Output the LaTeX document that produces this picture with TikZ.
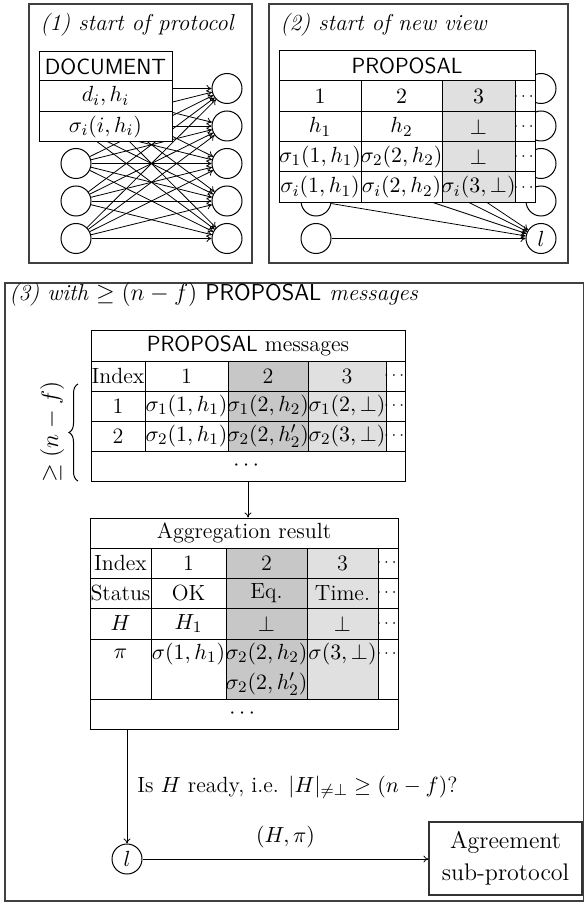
\documentclass[tikz,border=0pt]{standalone}
\usepackage{amsmath,amssymb}
\usetikzlibrary{arrows.meta,decorations.pathreplacing}
\definecolor{dgray}{gray}{0.78}
\definecolor{lgray}{gray}{0.88}
\newcommand\dts{{\fontsize{8}{9}\selectfont$\cdots$}}
\newcommand\tbox[5]{\path[draw=black,line width=0.5pt,fill=#5] (#1,#2) rectangle (#3,#4);}
\newcommand\tcell[7]{\tbox{#2}{#3}{#4}{#5}{#6}\node[txt] (#1) at ({(#2+#4)/2},{(#3+#5)/2}) {#7};}
\newcommand\bcell[7]{\node[draw=black,line width=0.5pt,fill=#6,inner sep=0pt,minimum width={(#4-#2)*0.5pt},minimum height={(#5-#3)*0.5pt}] (#1) at ({(#2+#4)/2},{(#3+#5)/2}) {#7};}
\begin{document}
\begin{tikzpicture}[x=0.5pt,y=-0.5pt,
  font=\fontsize{11}{13}\selectfont,
  frame/.style={draw=black!75,line width=0.6pt},
  nd/.style={circle,draw,line width=0.5pt,minimum size=15pt,inner sep=0pt,fill=white},
  arr/.style={-{To[length=2.5pt,width=3.5pt]},line width=0.4pt},
  txt/.style={inner sep=0pt},
  ttl/.style={anchor=base west,inner sep=0pt,font=\fontsize{11.5}{14}\selectfont}]
\useasboundingbox (0,0) rectangle (584,903);

% ---------- panel 1 ----------
\draw[frame] (29,4) rectangle (252,263);
\node[ttl] (ttl1) at (40,31) {\itshape (1) start of protocol};
\foreach \k/\y in {1/88.5,2/126,3/163.5,4/201,5/238.5}
  \node[nd] (R1\k) at (227,\y) {};
\coordinate (L11) at (76,88.5);
\coordinate (L12) at (76,126);
\node[nd] (L13) at (76,163.5) {};
\node[nd] (L14) at (76,201) {};
\node[nd] (L15) at (76,238.5) {};
\foreach \i in {1,...,5}
  \foreach \j in {1,...,5}
    \draw[arr] (L1\i) -- (R1\j);
\tcell{doc}{39}{52}{172}{81}{white}{\textsf{DOCUMENT}}
\tcell{docA}{39}{81}{172}{112}{white}{$d_i, h_i$}
\tcell{docB}{39}{112}{172}{142}{white}{$\sigma_i(i, h_i)$}

% ---------- panel 2 ----------
\draw[frame] (269,4) rectangle (568,263);
\node[ttl] (ttl2) at (280,31) {\itshape (2) start of new view};
\foreach \k/\y in {1/88.5,2/126,3/163.5,4/201}
  \node[nd] (R2\k) at (541,\y) {};
\node[nd] (lead) at (541,238.5) {$l$};
\coordinate (L21) at (316,88.5);
\coordinate (L22) at (316,126);
\coordinate (L23) at (316,163.5);
\node[nd] (L24) at (316,201) {};
\node[nd] (L25) at (316,238.5) {};
\foreach \i in {1,...,5}
  \draw[arr] (L2\i) -- (lead);
\tcell{prop}{279}{51}{535}{81}{white}{\textsf{PROPOSAL}}
\tcell{pa1}{279}{81}{361}{112}{white}{$1$}
\tcell{pa2}{361}{81}{442}{112}{white}{$2$}
\tcell{pa3}{442}{81}{515}{112}{lgray}{$3$}
\tcell{pa4}{515}{81}{535}{112}{white}{\dts}
\tcell{pb1}{279}{112}{361}{142}{white}{$h_1$}
\tcell{pb2}{361}{112}{442}{142}{white}{$h_2$}
\tcell{pb3}{442}{112}{515}{142}{lgray}{$\perp$}
\tcell{pb4}{515}{112}{535}{142}{white}{\dts}
\tcell{pc1}{279}{142}{361}{172}{white}{$\sigma_1(1, h_1)$}
\tcell{pc2}{361}{142}{442}{172}{white}{$\sigma_2(2, h_2)$}
\tcell{pc3}{442}{142}{515}{172}{lgray}{$\perp$}
\tcell{pc4}{515}{142}{535}{172}{white}{\dts}
\tcell{pd1}{279}{172}{361}{203}{white}{$\sigma_i(1, h_1)$}
\tcell{pd2}{361}{172}{442}{203}{white}{$\sigma_i(2, h_2)$}
\tcell{pd3}{442}{172}{515}{203}{lgray}{$\sigma_i(3, \perp)$}
\tcell{pd4}{515}{172}{535}{203}{white}{\dts}

% ---------- panel 3 ----------
\draw[frame] (5,283) rectangle (583.5,901);
\node[ttl] (ttl3) at (9,300) {\itshape (3) with $\geq (n-f)$ \textsf{\upshape PROPOSAL} messages};

% table 1
\bcell{pm}{91}{330}{405}{361}{white}{\textsf{PROPOSAL} messages}
\tcell{ma0}{91}{361}{145}{391}{white}{Index}
\tcell{ma1}{145}{361}{228}{391}{white}{1}
\tcell{ma2}{228}{361}{308}{391}{dgray}{2}
\tcell{ma3}{308}{361}{386}{391}{lgray}{3}
\tcell{ma4}{386}{361}{405}{391}{white}{\dts}
\tcell{mb0}{91}{391}{145}{421}{white}{1}
\tcell{mb1}{145}{391}{228}{421}{white}{$\sigma_1(1, h_1)$}
\tcell{mb2}{228}{391}{308}{421}{dgray}{$\sigma_1(2, h_2)$}
\tcell{mb3}{308}{391}{386}{421}{lgray}{$\sigma_1(2, \perp)$}
\tcell{mb4}{386}{391}{405}{421}{white}{\dts}
\tcell{mc0}{91}{421}{145}{451}{white}{2}
\tcell{mc1}{145}{421}{228}{451}{white}{$\sigma_2(1, h_1)$}
\tcell{mc2}{228}{421}{308}{451}{dgray}{$\sigma_2(2, h_2')$}
\tcell{mc3}{308}{421}{386}{451}{lgray}{$\sigma_2(3, \perp)$}
\tcell{mc4}{386}{421}{405}{451}{white}{\dts}
\bcell{pmdots}{91}{451}{405}{481}{white}{$\cdots$}

\coordinate (bb) at (78,481);
\coordinate (bt) at (78,384);
\draw[decorate,decoration={brace,amplitude=4.5pt},line width=0.5pt] (bb) -- (bt);
\node[rotate=90,font=\fontsize{13}{15}\selectfont] (nf) at (52,432) {$\geq(n-f)$};

% table 2
\bcell{ag}{90}{518}{398}{548}{white}{Aggregation result}
\tcell{ga0}{90}{548}{151}{578}{white}{Index}
\tcell{ga1}{151}{548}{226}{578}{white}{1}
\tcell{ga2}{226}{548}{307}{578}{dgray}{2}
\tcell{ga3}{307}{548}{378}{578}{lgray}{3}
\tcell{ga4}{378}{548}{398}{578}{white}{\dts}
\tcell{gb0}{90}{578}{151}{608}{white}{Status}
\tcell{gb1}{151}{578}{226}{608}{white}{OK}
\tcell{gb2}{226}{578}{307}{608}{dgray}{Eq.}
\tcell{gb3}{307}{578}{378}{608}{lgray}{Time.}
\tcell{gb4}{378}{578}{398}{608}{white}{\dts}
\tcell{gc0}{90}{608}{151}{639}{white}{$H$}
\tcell{gc1}{151}{608}{226}{639}{white}{$H_1$}
\tcell{gc2}{226}{608}{307}{639}{dgray}{$\perp$}
\tcell{gc3}{307}{608}{378}{639}{lgray}{$\perp$}
\tcell{gc4}{378}{608}{398}{639}{white}{\dts}
\tbox{90}{639}{151}{699}{white}
\tbox{151}{639}{226}{699}{white}
\tbox{226}{639}{307}{699}{dgray}
\tbox{307}{639}{378}{699}{lgray}
\tbox{378}{639}{398}{699}{white}
\node[txt] (gd0) at (120.5,654) {$\pi$};
\node[txt] (gd1) at (188.5,654) {$\sigma(1, h_1)$};
\node[txt] (gd2) at (266.5,654) {$\sigma_2(2, h_2)$};
\node[txt] (gd2b) at (266.5,684) {$\sigma_2(2, h_2')$};
\node[txt] (gd3) at (342.5,654) {$\sigma(3, \perp)$};
\node[txt] (gd4) at (388,654) {\dts};
\bcell{agdots}{90}{699}{398}{729}{white}{$\cdots$}

\draw[arr] (pmdots.south) -- (pmdots.south |- ag.north);

\node[nd] (lb) at (127,859) {$l$};
\node[draw=black!80,line width=0.6pt,align=center,inner sep=0pt,minimum width=76.5pt,minimum height=36.5pt,font=\fontsize{12}{16}\selectfont] (agree) at (505.5,858.5) {Agreement\\sub-protocol};
\draw[arr] (agdots.south -| lb) -- (lb);
\node[anchor=base west,inner sep=0pt] (q) at (137,792) {Is $H$ ready, i.e. $|H|_{\neq\perp} \geq (n-f)$?};
\draw[arr] (lb) -- (lb -| agree.west) node[midway,above=2pt] (hp) {$(H, \pi)$};
\end{tikzpicture}
\end{document}
